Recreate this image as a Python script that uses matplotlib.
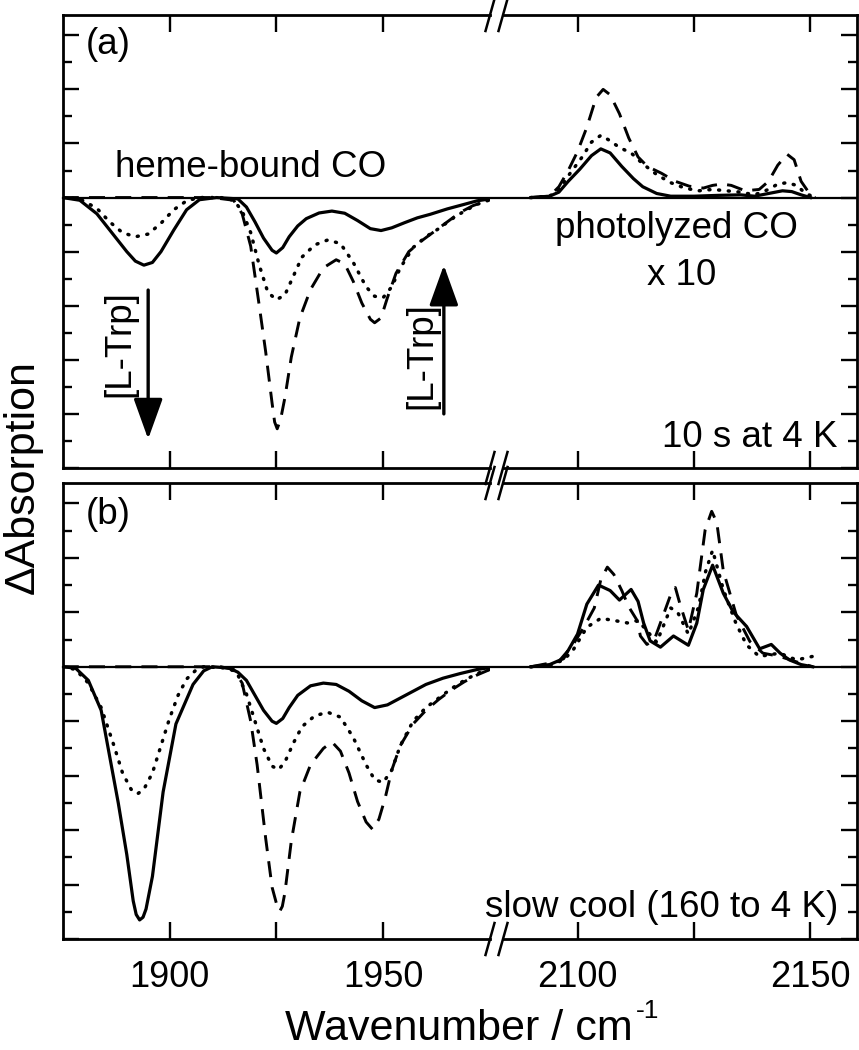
import matplotlib
matplotlib.use("Agg")
import matplotlib.pyplot as plt
from matplotlib.lines import Line2D

plt.rcParams['font.family'] = ['Liberation Sans', 'DejaVu Sans']

# ---- panel (a): 10 s at 4 K ----
a_solid_lx = [1875, 1879, 1883, 1887, 1890, 1892, 1894, 1896, 1898, 1901, 1904, 1907, 1911, 1916, 1918, 1920,
              1922, 1924, 1925, 1926.5, 1928, 1930, 1932, 1935, 1938, 1941, 1944, 1947, 1949.5, 1952, 1955,
              1958, 1961, 1965, 1969, 1972, 1975]
a_solid_ly = [0, -0.1, -0.6, -1.4, -2.0, -2.35, -2.5, -2.4, -2.0, -1.2, -0.45, -0.08, 0, -0.05, -0.35, -0.9,
              -1.5, -1.95, -2.05, -1.85, -1.45, -1.05, -0.78, -0.57, -0.5, -0.58, -0.85, -1.15, -1.22, -1.12, -0.93,
              -0.75, -0.62, -0.42, -0.25, -0.12, -0.05]
a_dot_lx = [1875, 1879, 1883, 1886, 1889, 1892, 1895, 1898, 1901, 1904, 1907, 1912, 1915, 1917, 1919, 1921,
            1923, 1925, 1927, 1929, 1931, 1934, 1937, 1940, 1943, 1946, 1948, 1950, 1952, 1954, 1957, 1960,
            1963, 1966, 1969, 1972, 1975]
a_dot_ly = [0, -0.05, -0.4, -0.9, -1.3, -1.45, -1.35, -0.95, -0.45, -0.12, 0, 0, -0.1, -0.5, -1.3, -2.5,
            -3.5, -3.78, -3.6, -2.9, -2.2, -1.75, -1.57, -1.7, -2.4, -3.3, -3.65, -3.7, -3.3, -2.6, -1.85, -1.45,
            -1.15, -0.8, -0.5, -0.25, -0.08]
a_dash_lx = [1875, 1910, 1915, 1917, 1919, 1921, 1922.5, 1924, 1924.6, 1925.2, 1926, 1927, 1928.5, 1930.5,
             1933, 1936, 1939, 1941, 1943, 1945, 1947, 1948, 1949.5, 1951, 1953, 1956, 1959, 1962, 1965, 1968,
             1971, 1975]
a_dash_ly = [0, 0, -0.1, -0.6, -1.8, -4.0, -5.7, -7.6, -8.3, -8.55, -8.2, -7.4, -5.9, -4.45,
             -3.4, -2.6, -2.3, -2.45, -3.1, -3.9, -4.5, -4.63, -4.45, -3.7, -2.8, -2.0, -1.6, -1.25, -0.9, -0.55,
             -0.3, -0.08]

a_solid_rx = [2090, 2094, 2096, 2098, 2100.5, 2103, 2105, 2107, 2109.5, 2112, 2114, 2117, 2120, 2125, 2130,
              2135, 2138, 2141, 2144, 2146, 2148, 2150]
a_solid_ry = [0, 0.05, 0.2, 0.6, 1.05, 1.55, 1.8, 1.65, 1.15, 0.7, 0.4, 0.15, 0.05, 0.05, 0.08,
              0.1, 0.05, 0.15, 0.25, 0.22, 0.1, 0]
a_dot_rx = [2090, 2094, 2096, 2098, 2101, 2103, 2105, 2107, 2109, 2111.5, 2114, 2117, 2120, 2123, 2126, 2129,
            2132, 2135, 2138, 2141, 2143, 2145, 2147, 2149, 2151]
a_dot_ry = [0, 0.05, 0.3, 0.8, 1.5, 2.05, 2.3, 2.1, 1.85, 1.65, 1.25, 0.85, 0.55, 0.35, 0.25, 0.3,
            0.25, 0.2, 0.1, 0.3, 0.5, 0.55, 0.45, 0.15, 0]
a_dash_rx = [2090, 2094, 2096, 2098, 2100, 2102, 2104, 2105.5, 2107, 2109, 2111, 2113, 2115, 2118, 2121, 2124,
             2127, 2129, 2131, 2133, 2136, 2139, 2141, 2143, 2145, 2146.5, 2148, 2150, 2151]
a_dash_ry = [0, 0.05, 0.4, 1.0, 1.7, 2.6, 3.7, 4.0, 3.8, 3.1, 2.2, 1.5, 1.15, 0.9, 0.6, 0.42,
             0.35, 0.45, 0.5, 0.45, 0.25, 0.3, 0.6, 1.2, 1.6, 1.4, 0.6, 0.1, 0]

# ---- panel (b): slow cool (160 to 4 K) ----
b_solid_lx = [1875, 1878, 1881, 1884, 1886, 1888, 1890, 1891.5, 1892.2, 1893, 1893.8, 1894.5, 1896, 1898.5,
              1901.5, 1905.5, 1908, 1910, 1914, 1916, 1918, 1920, 1922, 1924, 1925, 1926.5, 1928, 1930, 1933,
              1936, 1939, 1942, 1945, 1948, 1951, 1954, 1957, 1960, 1964, 1968, 1972, 1975]
b_solid_ly = [0, -0.05, -0.5, -1.6, -3.3, -5.0, -6.9, -8.6, -9.1, -9.3, -9.2, -8.9, -7.7, -4.6,
              -2.1, -0.65, -0.15, 0, -0.05, -0.2, -0.5, -1.05, -1.6, -2.0, -2.08, -1.9, -1.5, -1.05, -0.7,
              -0.6, -0.65, -0.9, -1.25, -1.5, -1.4, -1.15, -0.9, -0.65, -0.42, -0.25, -0.1, -0.03]
b_dot_lx = [1875, 1878, 1881, 1884, 1887, 1889, 1891, 1892.5, 1894, 1896, 1898, 1900, 1902, 1904, 1906, 1908,
            1914, 1916, 1918, 1920, 1922, 1924, 1925.5, 1927, 1929, 1931, 1934, 1937, 1940, 1943, 1946, 1948,
            1950, 1952, 1954, 1957, 1960, 1963, 1966, 1969, 1972, 1975]
b_dot_ly = [0, -0.1, -0.6, -1.5, -2.9, -3.9, -4.5, -4.67, -4.5, -3.9, -2.9, -1.9, -1.05, -0.45, -0.15, 0,
            -0.05, -0.3, -1.0, -2.0, -3.0, -3.65, -3.78, -3.5, -2.8, -2.2, -1.8, -1.67, -1.85, -2.6, -3.6, -4.15,
            -4.25, -3.8, -2.9, -2.0, -1.5, -1.15, -0.8, -0.5, -0.25, -0.08]
b_dash_lx = [1875, 1912, 1915, 1917, 1919, 1920.5, 1922.5, 1924, 1925.2, 1925.8, 1926.4, 1927, 1928.5, 1930.5,
             1933, 1936, 1938, 1940, 1942, 1944, 1946, 1947.5, 1949, 1950.5, 1952, 1954, 1957, 1960, 1963,
             1966, 1969, 1972, 1975]
b_dash_ly = [0, 0, -0.1, -0.6, -2.0, -3.6, -6.3, -8.1, -8.8, -8.98, -8.8, -8.3, -6.4, -4.6,
             -3.6, -3.0, -2.76, -3.1, -3.9, -4.95, -5.7, -5.97, -5.6, -4.8, -3.8, -2.9, -2.1, -1.6, -1.2,
             -0.85, -0.55, -0.3, -0.1]

b_solid_rx = [2090, 2094, 2097, 2100, 2102, 2104.5, 2107, 2109, 2111.5, 2113, 2114.2, 2115.6, 2117.8, 2120.6,
              2123.8, 2125.6, 2127, 2129, 2131.3, 2133.4, 2136.3, 2139.1, 2141.6, 2143.5, 2145.5, 2148, 2150.5]
b_solid_ry = [0, 0.08, 0.3, 1.2, 2.3, 3.0, 2.8, 2.45, 2.84, 2.4, 1.6, 0.95, 0.72, 1.13,
              0.79, 1.6, 2.84, 3.73, 2.7, 2.02, 1.48, 0.66, 0.82, 0.5, 0.25, 0.08, 0]
b_dot_rx = [2090, 2094, 2097, 2099, 2102, 2105, 2108.5, 2110.7, 2113, 2115, 2117, 2120, 2121.5, 2123.8, 2126,
            2127.5, 2129, 2131.3, 2134, 2136.3, 2139, 2143.4, 2147, 2151]
b_dot_ry = [0, 0.05, 0.25, 0.6, 1.45, 1.78, 1.68, 1.61, 1.7, 1.3, 0.9, 2.16, 2.0, 1.2, 2.2,
            3.5, 4.28, 2.84, 1.6, 0.8, 0.38, 0.5, 0.25, 0.4]
b_dash_rx = [2090, 2096, 2099, 2101.5, 2103.6, 2105, 2106.4, 2107.8, 2109.5, 2111, 2112.8, 2113.5, 2114.9,
             2116.5, 2117.8, 2119.9, 2121, 2122, 2123.8, 2125.6, 2127.4, 2128.8, 2129.9, 2131.3, 2134.1, 2137,
             2139.8, 2143.4, 2147, 2150.5]
b_dash_ry = [0, 0.2, 0.8, 1.5, 2.16, 3.2, 3.66, 3.39, 2.8, 2.2, 1.7, 1.13, 0.82,
             1.0, 1.61, 2.6, 2.91, 2.3, 1.34, 2.7, 5.03, 5.71, 5.3, 3.52, 1.89, 0.93,
             0.5, 0.38, 0.18, 0]

left_lim = (1875, 1975)
right_lim = (2084, 2160)
left_ticks = [1900, 1925, 1950]
left_labels = ['1900', '', '1950']
right_ticks = [2100, 2125, 2150]
right_labels = ['2100', '', '2150']

W, H = 859, 1050
fig = plt.figure(figsize=(W / 100, H / 100), dpi=100)

x0, xb1, xb2, x1 = 62.7, 490, 503, 857
panels = [(15, 468), (483, 939)]

solid = dict(color='black', lw=2.3, ls='-', solid_joinstyle='round')
dotted = dict(color='black', lw=2.5, ls=(0, (0.3, 2.5)), dash_capstyle='round')
dashed = dict(color='black', lw=2.1, ls=(0, (5.5, 3.5)), dash_joinstyle='round')

data = [
    ((a_solid_lx, a_solid_ly), (a_dot_lx, a_dot_ly), (a_dash_lx, a_dash_ly),
     (a_solid_rx, a_solid_ry), (a_dot_rx, a_dot_ry), (a_dash_rx, a_dash_ry)),
    ((b_solid_lx, b_solid_ly), (b_dot_lx, b_dot_ly), (b_dash_lx, b_dash_ly),
     (b_solid_rx, b_solid_ry), (b_dot_rx, b_dot_ry), (b_dash_rx, b_dash_ry)),
]

axes = []
for i, (top, bot) in enumerate(panels):
    b = 1 - bot / H
    h = (bot - top) / H
    axL = fig.add_axes([x0 / W, b, (xb1 - x0) / W, h])
    axR = fig.add_axes([xb2 / W, b, (x1 - xb2) / W, h])
    d = data[i]
    axL.plot(*d[2], **dashed)
    axL.plot(*d[1], **dotted)
    axL.plot(*d[0], **solid)
    axR.plot(*d[5], **dashed)
    axR.plot(*d[4], **dotted)
    axR.plot(*d[3], **solid)
    axL.axhline(0, xmin=0, xmax=1 + (xb2 - xb1) / (xb1 - x0), color='black', lw=1.6, clip_on=False)
    axR.axhline(0, color='black', lw=1.6)

    for ax, lim, ticks, labels in [(axL, left_lim, left_ticks, left_labels),
                                   (axR, right_lim, right_ticks, right_labels)]:
        ax.set_xlim(*lim)
        ax.set_ylim(-10, 6.75)
        ax.set_xticks(ticks)
        if i == 1:
            ax.set_xticklabels(labels)
        else:
            ax.set_xticklabels([])
        ax.set_yticks(range(-10, 7, 2))
        ax.set_yticks(range(-9, 7, 2), minor=True)
        ax.set_yticklabels([])
        ax.tick_params(axis='x', which='major', direction='in', top=True, bottom=True,
                       length=12, width=1.7, labelsize=26, pad=15)
        ax.tick_params(axis='y', which='major', direction='in', length=11.5, width=1.7)
        ax.tick_params(axis='y', which='minor', direction='in', length=6.5, width=1.7)
        for s in ax.spines.values():
            s.set_linewidth(2)
    axL.spines['right'].set_visible(False)
    axR.spines['left'].set_visible(False)
    axL.tick_params(axis='y', which='both', left=True, right=False)
    axR.tick_params(axis='y', which='both', left=False, right=True)
    axes.append((axL, axR))

# break marks
for y in [15, 468, 483, 939]:
    for xb in [xb1, xb2]:
        fig.add_artist(Line2D([(xb - 4.5) / W, (xb + 4.5) / W], [1 - (y + 16) / H, 1 - (y - 16) / H],
                              color='black', lw=1.8))

(aL, aR), (bL, bR) = axes
fs = 26.5
aL.text(1880.5, 5.65, '(a)', fontsize=fs, va='center', ha='left')
aL.text(1887.3, 0.77, 'heme-bound CO', fontsize=fs, va='baseline', ha='left')
aR.text(2121.3, -1.5, 'photolyzed CO', fontsize=fs, va='baseline', ha='center')
aR.text(2122.3, -3.22, 'x 10', fontsize=fs, va='baseline', ha='center')
aR.text(2155.9, -9.23, '10 s at 4 K', fontsize=fs, va='baseline', ha='right')
bL.text(1880.5, 5.6, '(b)', fontsize=fs, va='center', ha='left')
bR.text(2155.9, -9.2, 'slow cool (160 to 4 K)', fontsize=fs, va='baseline', ha='right')

arrow = dict(arrowstyle='-|>,head_length=1.25,head_width=0.45', mutation_scale=20, color='black', lw=2.4,
             shrinkA=0, shrinkB=0)
aL.annotate('', xy=(1895, -8.93), xytext=(1895, -3.42), arrowprops=arrow)
aL.annotate('', xy=(1964.2, -2.5), xytext=(1964.2, -8.0), arrowprops=arrow)
aL.text(1888.3, -5.4, '[L-Trp]', fontsize=fs, rotation=90, va='center', ha='center')
aL.text(1959.0, -5.86, '[L-Trp]', fontsize=fs, rotation=90, va='center', ha='center')

fig.text(0.026, 1 - 477 / H, '\u0394Absorption', fontsize=31, rotation=90, va='center', ha='center')
fig.text(633 / W, 1 - 1040 / H, 'Wavenumber / cm', fontsize=31, va='baseline', ha='right')
fig.text(636 / W, 1 - 1018 / H, '-1', fontsize=19, va='baseline', ha='left')

fig.savefig('out.png', dpi=100)
